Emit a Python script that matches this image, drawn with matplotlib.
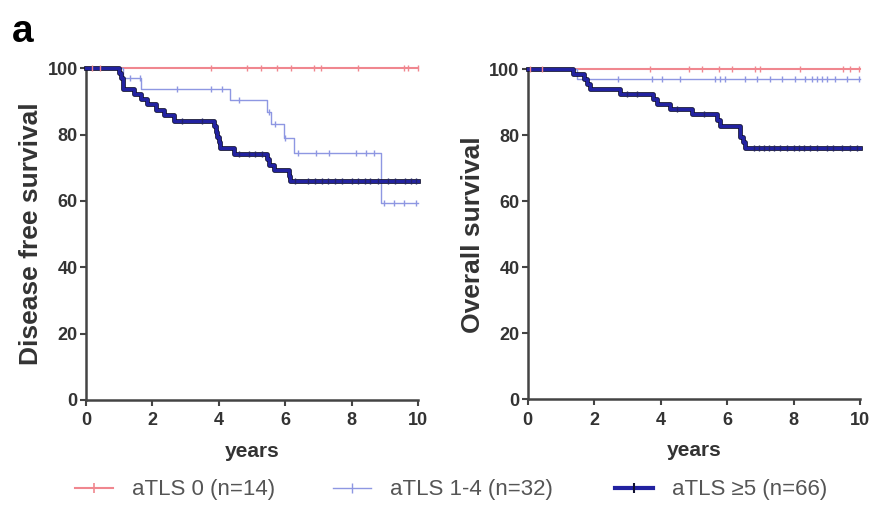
import matplotlib.pyplot as plt
import matplotlib.patheffects as pe
from matplotlib.lines import Line2D

plt.rcParams['font.family'] = ['Liberation Sans', 'DejaVu Sans']

# Disease free survival, step times (years) and survival (%)
dfs_t0 = [0, 10]
dfs_s0 = [100, 100]
dfs_c0 = [0.17, 0.42, 3.75, 4.85, 5.26, 5.76, 6.16, 6.87, 7.07, 8.18, 9.59, 9.69, 9.99]

dfs_t14 = [0, 1.1, 1.65, 4.35, 5.46, 5.56, 5.96, 6.26, 8.88, 10]
dfs_s14 = [100, 96.9, 93.8, 90.5, 86.9, 83.1, 79.1, 74.4, 59.5, 59.5]
dfs_c14 = [1.33, 1.63, 2.74, 3.75, 4.1, 4.6, 5.5, 5.7, 6.0, 6.37, 6.92, 7.32, 8.13, 8.43, 8.68,
           8.98, 9.28, 9.59, 9.94]

dfs_t5 = [0, 1.0, 1.05, 1.1, 1.45, 1.65, 1.85, 2.1, 2.35, 2.65, 3.85, 3.9, 3.95, 4.0, 4.05,
          4.45, 5.46, 5.5, 5.65, 6.1, 6.15, 10]
dfs_s5 = [100, 98.5, 96.9, 93.8, 92.3, 90.7, 89.1, 87.5, 85.9, 84.2, 82.6, 80.9, 79.3, 77.6,
          75.9, 74.2, 72.5, 70.8, 69.3, 67.6, 66.0, 66.0]
dfs_c5 = [2.9, 3.5, 4.6, 4.9, 5.1, 5.3, 6.3, 6.7, 6.9, 7.1, 7.3, 7.5, 7.7, 8.0, 8.2, 8.4,
          8.55, 8.8, 9.1, 9.3, 9.6, 9.8, 9.95]

# Overall survival
os_t0 = [0, 10]
os_s0 = [100, 100]
os_c0 = [0.07, 0.42, 3.68, 4.84, 5.24, 5.74, 6.14, 6.85, 7.0, 8.2, 9.5, 9.7, 9.96]

os_t14 = [0, 1.47, 10]
os_s14 = [100, 96.9, 96.9]
os_c14 = [2.73, 3.73, 4.04, 4.59, 5.64, 5.79, 5.94, 6.55, 6.9, 7.3, 7.65, 8.05, 8.35, 8.55,
          8.7, 8.86, 9.0, 9.26, 9.61, 9.96]

os_t5 = [0, 1.37, 1.7, 1.78, 1.88, 2.78, 3.78, 3.88, 4.29, 4.94, 5.7, 5.8, 6.39, 6.47, 6.55, 10]
os_s5 = [100, 98.5, 97.0, 95.4, 93.9, 92.4, 90.9, 89.4, 87.8, 86.3, 84.5, 82.8, 79.6, 77.9,
         76.2, 76.2]
os_c5 = [3.0, 3.3, 4.5, 5.3, 6.8, 6.95, 7.1, 7.25, 7.4, 7.6, 7.8, 8.0, 8.15, 8.3, 8.5, 8.7,
         9.0, 9.2, 9.45, 9.7, 9.9]

labels = ['aTLS 0 (n=14)', 'aTLS 1-4 (n=32)', 'aTLS \u22655 (n=66)']
red = '#f0878f'
light = '#8e97e2'
dark = '#2222a0'


def surv_at(t, times, surv):
    s = surv[0]
    for ti, si in zip(times, surv):
        if ti <= t:
            s = si
    return s


def draw_panel(ax, curves, ylabel):
    for times, surv, cens, color, lw, outline in curves:
        effects = [pe.Stroke(linewidth=lw + 1.2, foreground='#111133'), pe.Normal()] if outline else None
        ax.step(times, surv, where='post', color=color, lw=lw, clip_on=False,
                path_effects=effects, zorder=3 if outline else 2)
        ax.plot(cens, [surv_at(c, times, surv) for c in cens], ls='none', marker='|',
                ms=4.5, mew=1.0, color='#222266' if outline else color, clip_on=False, zorder=4)
    ax.set_xlim(0, 10)
    ax.set_ylim(0, 100)
    ax.set_xticks(range(0, 11, 2))
    ax.set_yticks(range(0, 101, 20))
    for side in ['top', 'right']:
        ax.spines[side].set_visible(False)
    for side in ['left', 'bottom']:
        ax.spines[side].set_linewidth(1.8)
        ax.spines[side].set_color('#444444')
    ax.tick_params(direction='out', length=4, width=1.5, color='#444444',
                   labelsize=13, labelcolor='#333333', pad=2)
    ax.tick_params(axis='x', pad=5)
    for lab in ax.get_xticklabels() + ax.get_yticklabels():
        lab.set_fontweight('bold')
    ax.set_xlabel('years', fontsize=15, fontweight='bold', color='#333333', labelpad=9)
    ax.set_ylabel(ylabel, fontsize=19, fontweight='bold', color='#333333', labelpad=3)


fig = plt.figure(figsize=(8.7, 5.05), dpi=100)
ax1 = fig.add_axes([0.0989, 0.208, 0.3816, 0.657])
ax2 = fig.add_axes([0.6066, 0.209, 0.382, 0.654])

draw_panel(ax1, [
    (dfs_t0, dfs_s0, dfs_c0, red, 1.5, False),
    (dfs_t14, dfs_s14, dfs_c14, light, 1.0, False),
    (dfs_t5, dfs_s5, dfs_c5, dark, 2.2, True),
], 'Disease free survival')

draw_panel(ax2, [
    (os_t0, os_s0, os_c0, red, 1.5, False),
    (os_t14, os_s14, os_c14, light, 1.0, False),
    (os_t5, os_s5, os_c5, dark, 2.2, True),
], 'Overall survival')

fig.text(0.014, 0.972, 'a', fontsize=28, fontweight='bold', va='top', ha='left')

# legend entries placed one by one along the bottom
handles = [
    Line2D([], [], color=red, lw=1.5, marker='|', ms=7, mew=1.2),
    Line2D([], [], color=light, lw=1.0, marker='|', ms=7, mew=1.0),
    Line2D([], [], color=dark, lw=3.0, marker='|', ms=7, mew=1.5, mec='#111133'),
]
anchors = [75 / 870, 333 / 870, 615 / 870]
for h, lab, x in zip(handles, labels, anchors):
    fig.legend([h], [lab], loc='center left', bbox_to_anchor=(x, 1 - 490 / 505),
               frameon=False, fontsize=16, handlelength=1.7, handletextpad=0.85,
               borderpad=0, borderaxespad=0, labelcolor='#555555')

fig.savefig('out.png', dpi=100)
